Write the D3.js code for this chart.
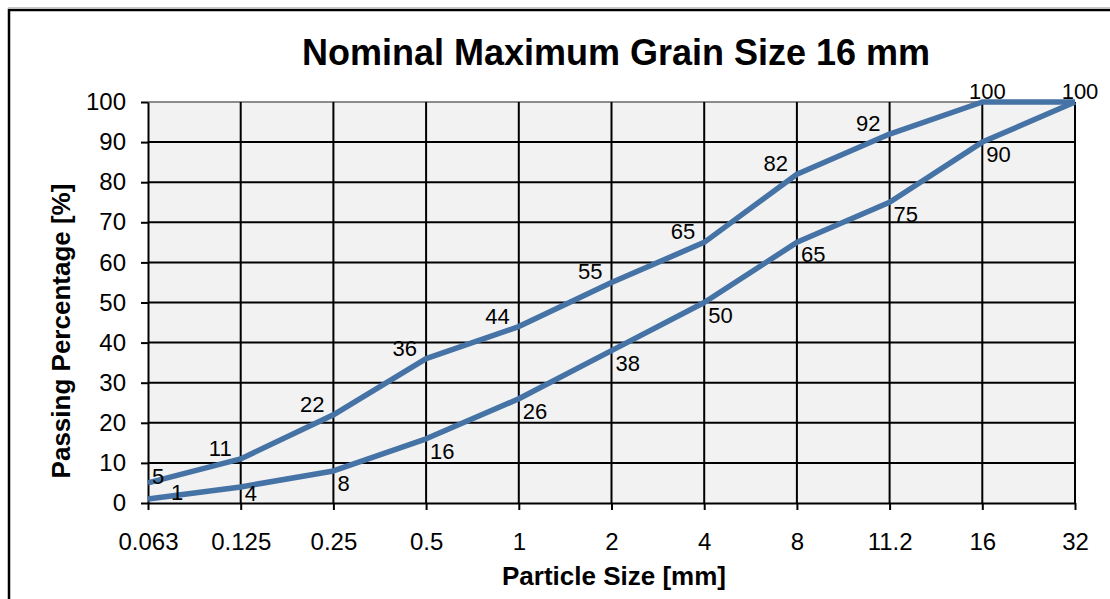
<!DOCTYPE html>
<html>
<head>
<meta charset="utf-8">
<script src="https://cdn.jsdelivr.net/npm/d3@7"></script>
<style>
  body { margin: 0; background: #fff; }
  svg { display: block; font-family: Arial, "Liberation Sans", sans-serif; }
  .grid line { stroke: #000; stroke-width: 2; }
  .axis path, .axis line { stroke: #000; stroke-width: 2; }
  .axis text { font-size: 24px; fill: #000; }
  .label { font-size: 22px; fill: #000; }
</style>
</head>
<body>
<svg id="chart" width="1110" height="599"></svg>
<script>
var sizes = ["0.063", "0.125", "0.25", "0.5", "1", "2", "4", "8", "11.2", "16", "32"];
var upperLimit = [5, 11, 22, 36, 44, 55, 65, 82, 92, 100, 100];
var lowerLimit = [1, 4, 8, 16, 26, 38, 50, 65, 75, 90, 100];
var yTicks = [0, 10, 20, 30, 40, 50, 60, 70, 80, 90, 100];

var svg = d3.select("#chart");

var plotLeft = 148, plotRight = 1075, plotTop = 102, plotBottom = 503;

var x = d3.scalePoint().domain(sizes).range([plotLeft, plotRight]);
var y = d3.scaleLinear().domain([0, 100]).range([plotBottom, plotTop]);

// outer chart frame
svg.append("line")
    .attr("x1", 8).attr("x2", 1110)
    .attr("y1", 7.5).attr("y2", 7.5)
    .attr("stroke", "#c8c8c8").attr("stroke-width", 1);
svg.append("rect")
    .attr("x", 9).attr("y", 10)
    .attr("width", 1110).attr("height", 600)
    .attr("fill", "none")
    .attr("stroke", "#000")
    .attr("stroke-width", 2.5);

svg.append("text")
    .attr("x", 616)
    .attr("y", 65)
    .attr("text-anchor", "middle")
    .style("font-size", "36px")
    .style("font-weight", "bold")
    .text("Nominal Maximum Grain Size 16 mm");

// plot area
svg.append("rect")
    .attr("x", plotLeft).attr("y", plotTop)
    .attr("width", plotRight - plotLeft).attr("height", plotBottom - plotTop)
    .attr("fill", "#f2f2f2");

var grid = svg.append("g").attr("class", "grid");

grid.selectAll(".h")
    .data(yTicks.slice(1))
    .enter()
  .append("line")
    .attr("x1", plotLeft).attr("x2", plotRight)
    .attr("y1", function(d) { return y(d); })
    .attr("y2", function(d) { return y(d); })
    .style("stroke", function(d) { return d === 100 ? "#8c8c8c" : null; });

grid.selectAll(".v")
    .data(sizes.slice(1))
    .enter()
  .append("line")
    .attr("x1", function(d) { return x(d); })
    .attr("x2", function(d) { return x(d); })
    .attr("y1", plotTop).attr("y2", plotBottom);

svg.append("g")
    .attr("class", "axis")
    .attr("transform", "translate(0," + plotBottom + ")")
    .call(d3.axisBottom(x).tickSize(7).tickSizeOuter(0).tickPadding(18))
  .selectAll("text")
    .attr("dy", "0.9em");

svg.append("g")
    .attr("class", "axis")
    .attr("transform", "translate(" + plotLeft + ",0)")
    .call(d3.axisLeft(y).tickValues(yTicks).tickSize(7).tickSizeOuter(0).tickPadding(15));

svg.append("text")
    .attr("x", 614)
    .attr("y", 585)
    .attr("text-anchor", "middle")
    .style("font-size", "26px")
    .style("font-weight", "bold")
    .text("Particle Size [mm]");

svg.append("text")
    .attr("transform", "translate(70,331) rotate(-90)")
    .attr("text-anchor", "middle")
    .style("font-size", "26px")
    .style("font-weight", "bold")
    .text("Passing Percentage [%]");

// grading curves
var line = d3.line()
    .x(function(d) { return x(d.size); })
    .y(function(d) { return y(d.value); });

function toPoints(values) {
  return values.map(function(v, i) { return { size: sizes[i], value: v, i: i }; });
}

var upper = toPoints(upperLimit);
var lower = toPoints(lowerLimit);

[upper, lower].forEach(function(series) {
  svg.append("path")
      .datum(series)
      .attr("fill", "none")
      .attr("stroke", "#4673a6")
      .attr("stroke-width", 5.5)
      .attr("stroke-linejoin", "round")
      .attr("d", line);
});

// data labels: upper curve to the left, lower curve below right
svg.selectAll(".label.up")
    .data(upper)
    .enter()
  .append("text")
    .attr("class", "label up")
    .attr("x", function(d) {
      if (d.i === 0) return x(d.size) + 4;
      if (d.value === 100) return x(d.size) + 5;
      return x(d.size) - 9;
    })
    .attr("y", function(d) {
      if (d.i === 0) return y(d.value) + 1;
      return y(d.value) - 3;
    })
    .attr("text-anchor", function(d) {
      if (d.i === 0) return "start";
      if (d.value === 100) return "middle";
      return "end";
    })
    .text(function(d) { return d.value; });

// keep lower labels inside the plot area, skip the one shared with the upper curve
svg.selectAll(".label.low")
    .data(lower.filter(function(d) { return d.value !== upperLimit[d.i]; }))
    .enter()
  .append("text")
    .attr("class", "label low")
    .attr("x", function(d) { return x(d.size) + (d.i === 0 ? 23 : 4); })
    .attr("y", function(d) {
      if (d.i === 0) return y(d.value) + 1;
      return Math.min(y(d.value) + 20, plotBottom - 2);
    })
    .text(function(d) { return d.value; });
</script>
</body>
</html>
